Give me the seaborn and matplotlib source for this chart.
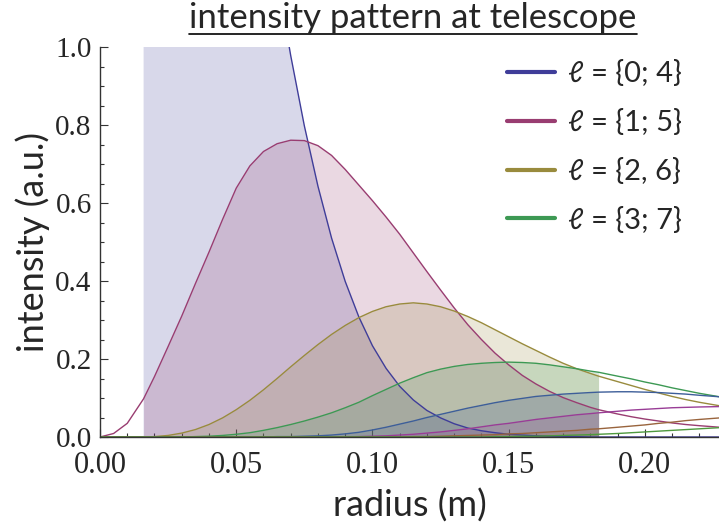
import numpy as np
import pandas as pd
import matplotlib
matplotlib.use('Agg')
import matplotlib.pyplot as plt
from matplotlib.lines import Line2D
from matplotlib.ticker import MultipleLocator, FormatStrFormatter
import seaborn as sns

# radius grid (m) and intensity of each mode
radius = [0.000, 0.005, 0.010, 0.016, 0.020, 0.025, 0.030, 0.035, 0.040, 0.045,
          0.050, 0.055, 0.060, 0.065, 0.070, 0.075, 0.080, 0.085, 0.090, 0.095,
          0.100, 0.105, 0.110, 0.115, 0.120, 0.125, 0.130, 0.135, 0.140, 0.145,
          0.150, 0.155, 0.160, 0.165, 0.170, 0.175, 0.180, 0.183, 0.190, 0.195,
          0.200, 0.205, 0.210, 0.215, 0.220, 0.2275]

l0 = [3.86, 3.83, 3.75, 3.59, 3.45, 3.24, 3.00, 2.74, 2.46, 2.19,
      1.91, 1.65, 1.41, 1.18, 0.978, 0.798, 0.643, 0.510, 0.399, 0.308,
      0.234, 0.176, 0.130, 0.095, 0.068, 0.049, 0.034, 0.023, 0.016, 0.011,
      0.007, 0.005, 0.003, 0.002, 0.001, 0.001, 0.0, 0.0, 0.0, 0.0,
      0.0, 0.0, 0.0, 0.0, 0.0, 0.0]
l1 = [0.000, 0.009, 0.035, 0.098, 0.155, 0.232, 0.310, 0.393, 0.474, 0.558,
      0.638, 0.695, 0.732, 0.752, 0.761, 0.760, 0.747, 0.722, 0.686, 0.646,
      0.606, 0.564, 0.520, 0.472, 0.424, 0.377, 0.331, 0.288, 0.250, 0.215,
      0.185, 0.158, 0.136, 0.117, 0.101, 0.088, 0.076, 0.070, 0.059, 0.052,
      0.046, 0.041, 0.036, 0.032, 0.029, 0.025]
l2 = [0.0, 0.0, 0.0, 0.000, 0.001, 0.004, 0.010, 0.019, 0.032, 0.049,
      0.070, 0.094, 0.121, 0.150, 0.180, 0.209, 0.237, 0.263, 0.286, 0.306,
      0.322, 0.334, 0.341, 0.344, 0.341, 0.334, 0.323, 0.309, 0.293, 0.275,
      0.257, 0.239, 0.222, 0.205, 0.189, 0.175, 0.163, 0.156, 0.142, 0.132,
      0.122, 0.113, 0.104, 0.096, 0.089, 0.080]
l3 = [0.0, 0.0, 0.0, 0.0, 0.0, 0.0, 0.0, 0.001, 0.002, 0.004,
      0.007, 0.011, 0.017, 0.024, 0.032, 0.041, 0.051, 0.062, 0.075, 0.089,
      0.106, 0.122, 0.138, 0.152, 0.165, 0.174, 0.181, 0.186, 0.189, 0.191,
      0.192, 0.191, 0.189, 0.185, 0.180, 0.175, 0.169, 0.166, 0.156, 0.149,
      0.141, 0.134, 0.126, 0.119, 0.112, 0.103]
l4 = [0.0] * 13 + [0.001, 0.001, 0.002, 0.003, 0.005, 0.008, 0.012,
      0.018, 0.025, 0.033, 0.041, 0.050, 0.058, 0.066, 0.074, 0.081, 0.088,
      0.094, 0.099, 0.104, 0.107, 0.110, 0.112, 0.114, 0.115, 0.116, 0.116,
      0.115, 0.114, 0.112, 0.110, 0.107, 0.103]
l5 = [0.0] * 19 + [0.001,
      0.002, 0.003, 0.005, 0.007, 0.010, 0.013, 0.017, 0.021, 0.026, 0.031,
      0.035, 0.040, 0.045, 0.049, 0.053, 0.057, 0.060, 0.062, 0.066, 0.069,
      0.071, 0.073, 0.075, 0.076, 0.077, 0.078]
l6 = [0.0] * 23 + [0.001, 0.001, 0.002, 0.003, 0.004, 0.005, 0.006,
      0.008, 0.009, 0.011, 0.013, 0.015, 0.017, 0.020, 0.021, 0.025, 0.028,
      0.031, 0.035, 0.038, 0.042, 0.045, 0.049]
l7 = [0.0] * 29 + [0.001,
      0.001, 0.002, 0.002, 0.003, 0.004, 0.005, 0.006, 0.007, 0.009, 0.011,
      0.013, 0.015, 0.017, 0.019, 0.021, 0.024]

modes = ['0', '1', '2', '3', '4', '5', '6', '7']
legend_labels = ['ℓ = {0; 4}', 'ℓ = {1; 5}', 'ℓ = {2, 6}', 'ℓ = {3; 7}']
colors = ['#3f3d99', '#993d71', '#998b3d', '#3d9954',
          '#3d5e99', '#993d96', '#99643d', '#4e993d']

# telescope aperture (inner / outer radius)
r_inner = 0.016
r_outer = 0.183

curves = [l0, l1, l2, l3, l4, l5, l6, l7]
df = pd.concat([pd.DataFrame({'radius': radius, 'intensity': c, 'mode': m})
                for m, c in zip(modes, curves)], ignore_index=True)

sns.set_style('ticks')
plt.rcParams['font.family'] = ['Lato', 'DejaVu Sans']

fig = plt.figure(figsize=(7.19, 5.22), dpi=100)
ax = fig.add_axes([100 / 719, 85 / 522, 619 / 719, 390 / 522])

r = np.array(radius)
mask = (r >= r_inner) & (r <= r_outer)
for c, col in zip(curves, colors):
    ax.fill_between(r[mask], 0, np.array(c)[mask], color=col, alpha=0.2, lw=0)

sns.lineplot(data=df, x='radius', y='intensity', hue='mode', palette=colors,
             linewidth=1.0, legend=False, ax=ax, estimator=None, sort=False)

ax.set_xlim(0, 0.2272)
ax.set_ylim(0, 1.0)
sns.despine(ax=ax)
for s in ['left', 'bottom']:
    ax.spines[s].set_linewidth(1.0)
    ax.spines[s].set_color('#333333')
    ax.spines[s].set_zorder(5)

ax.xaxis.set_major_locator(MultipleLocator(0.05))
ax.xaxis.set_minor_locator(MultipleLocator(0.01))
ax.yaxis.set_major_locator(MultipleLocator(0.2))
ax.yaxis.set_minor_locator(MultipleLocator(0.05))
ax.xaxis.set_major_formatter(FormatStrFormatter('%.2f'))
ax.yaxis.set_major_formatter(FormatStrFormatter('%.1f'))
ax.tick_params(which='both', direction='in', width=0.8, color='#333333')
ax.tick_params(which='major', length=6)
ax.tick_params(which='minor', length=3)
ax.tick_params(axis='x', pad=10)
ax.tick_params(axis='y', pad=6)
for lab in ax.get_xticklabels():
    lab.set_family('Liberation Serif')
    lab.set_fontsize(22)
for lab in ax.get_yticklabels():
    lab.set_family('Liberation Serif')
    lab.set_fontsize(21)

ax.set_xlabel('radius (m)', fontsize=26, labelpad=6)
ax.set_ylabel('intensity (a.u.)', fontsize=26, labelpad=4)

handles = [Line2D([0], [0], color=col, lw=3) for col in colors[:4]]
ax.legend(handles, legend_labels, loc='upper left', frameon=False,
          bbox_to_anchor=(507 / 719, 1 - 60 / 522), bbox_transform=fig.transFigure,
          borderaxespad=0, borderpad=0, fontsize=21, handlelength=1.65,
          handletextpad=0.45, labelspacing=0.75)

title = fig.text(413 / 719, 1 - 28 / 522, 'intensity pattern at telescope',
                 ha='center', va='baseline', fontsize=25)
fig.canvas.draw()
bb = title.get_window_extent()
fig.add_artist(Line2D([bb.x0, bb.x1], [522 - 34, 522 - 34], color='black',
                      lw=1.2, transform=None))

fig.savefig('out.png', dpi=100)
